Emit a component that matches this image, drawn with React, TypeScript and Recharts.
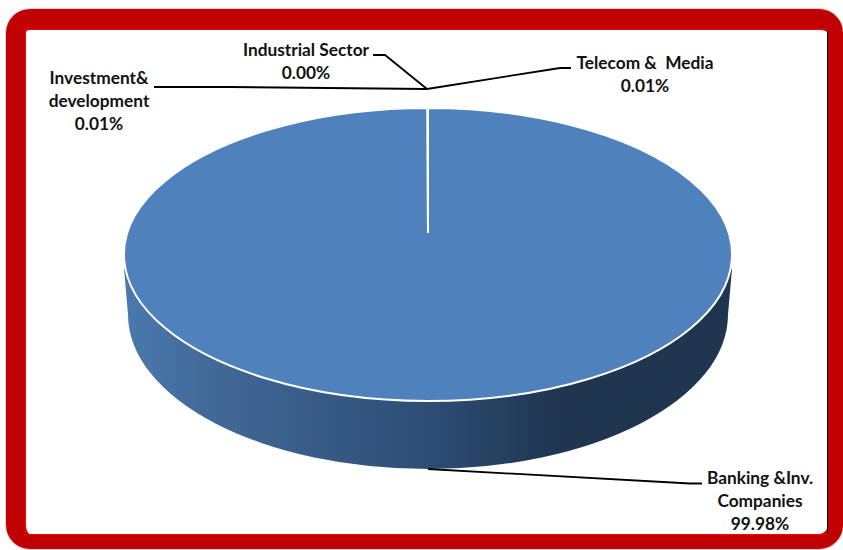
import React from 'react';
import { PieChart, Pie, Cell } from 'recharts';

const categories = ['Banking &Inv. Companies', 'Investment& development', 'Industrial Sector', 'Telecom &  Media'];
const values = [99.98, 0.01, 0.0, 0.01];
const chartData = categories.map((name, i) => ({ name, value: values[i] }));

const labelLines: Record<string, string[]> = {
  'Banking &Inv. Companies': ['Banking &Inv.', 'Companies'],
  'Investment& development': ['Investment&', 'development'],
  'Industrial Sector': ['Industrial Sector'],
  'Telecom &  Media': ['Telecom &  Media'],
};
const labelAt: Record<string, { x: number; y: number }> = {
  'Banking &Inv. Companies': { x: 760, y: 484 },
  'Investment& development': { x: 99, y: 84 },
  'Industrial Sector': { x: 306, y: 56 },
  'Telecom &  Media': { x: 645, y: 69 },
};
const leaders: Record<string, string> = {
  'Banking &Inv. Companies': 'M428,469 L690,483.5 L702,483.5',
  'Investment& development': 'M154,87 L230,87 L427,89',
  'Industrial Sector': 'M373,55 L385,55 L427,89',
  'Telecom &  Media': 'M427,89 L560,68 L571,68',
};

const SQUASH = 146.5 / 304;
const APEX_LIFT = 22.5;
const FONT = 'Lato, Carlito, Calibri, sans-serif';

function SliceShape(props: any) {
  const { cx, cy, outerRadius: R, startAngle, endAngle, fill, index } = props;
  const ry = R * SQUASH;
  const px = (a: number) => cx + R * Math.cos((a * Math.PI) / 180);
  const py = (a: number) => cy - ry * Math.sin((a * Math.PI) / 180);
  const span = Math.abs(endAngle - startAngle);
  const large = span > 180 ? 1 : 0;
  const sweep = endAngle < startAngle ? 1 : 0;
  const top = `M${cx},${cy - APEX_LIFT} L${px(startAngle)},${py(startAngle)} A${R},${ry} 0 ${large} ${sweep} ${px(endAngle)},${py(endAngle)} Z`;
  const wall = `M${cx - R},${cy + 14} L${cx - R + 4},${cy + 60} A${R - 4},${ry + 8} 0 0 0 ${cx + R - 4},${cy + 60} L${cx + R},${cy + 14} Z`;
  return (
    <g>
      {index === 0 && (
        <>
          <defs>
            <linearGradient id="wallGrad" x1="0" y1="0" x2="1" y2="0">
              <stop offset="0" stopColor="#4b79ae" />
              <stop offset="0.13" stopColor="#426a99" />
              <stop offset="0.5" stopColor="#2d4d75" />
              <stop offset="0.72" stopColor="#1f3550" />
              <stop offset="1" stopColor="#1f3550" />
            </linearGradient>
          </defs>
          <path d={wall} fill="url(#wallGrad)" />
        </>
      )}
      <path d={top} fill={fill} stroke="#ffffff" strokeWidth={2} strokeLinejoin="round" />
    </g>
  );
}

function SliceLabel(props: any) {
  const { name, value } = props;
  const at = labelAt[name];
  const lines = [...labelLines[name], `${Number(value).toFixed(2)}%`];
  return (
    <g>
      {lines.map((t, i) => (
        <text
          key={i}
          x={at.x}
          y={at.y + i * 23}
          textAnchor="middle"
          fontFamily={FONT}
          fontWeight={700}
          fontSize={17.3}
          fill="#111111"
          style={{ whiteSpace: 'pre' }}
        >
          {t}
        </text>
      ))}
    </g>
  );
}

function LeaderLine(props: any) {
  return <path d={leaders[props.name]} fill="none" stroke="#000000" strokeWidth={1.8} />;
}

export default function App() {
  return (
    <div style={{ position: 'absolute', left: 0, top: 0, width: 843, height: 550, background: '#ffffff', overflow: 'hidden' }}>
      <div
        style={{
          position: 'absolute',
          left: 6,
          top: 9,
          width: 837,
          height: 540,
          boxSizing: 'border-box',
          borderStyle: 'solid',
          borderColor: '#c00000',
          borderWidth: '21px 15px 15px 20px',
          borderRadius: 24,
          boxShadow: '0 0 1px 1px #d9d0d0',
        }}
      />
      <div
        style={{
          position: 'absolute',
          left: 25,
          top: 29,
          width: 803,
          height: 506,
          boxSizing: 'border-box',
          borderStyle: 'solid',
          borderWidth: 1.5,
          borderColor: '#ff0000 #111111 #ff0000 #ff0000',
        }}
      />
      <div style={{ position: 'absolute', left: 0, top: 0 }}>
        <PieChart width={843} height={550} margin={{ top: 0, right: 0, bottom: 0, left: 0 }}>
          <Pie
            data={chartData}
            dataKey="value"
            nameKey="name"
            cx={428}
            cy={254.5}
            outerRadius={304}
            startAngle={90}
            endAngle={-270}
            stroke="none"
            shape={SliceShape}
            label={SliceLabel}
            labelLine={LeaderLine}
            isAnimationActive={false}
          >
            {chartData.map((d) => (
              <Cell key={d.name} fill="#4f81bd" />
            ))}
          </Pie>
        </PieChart>
      </div>
    </div>
  );
}
